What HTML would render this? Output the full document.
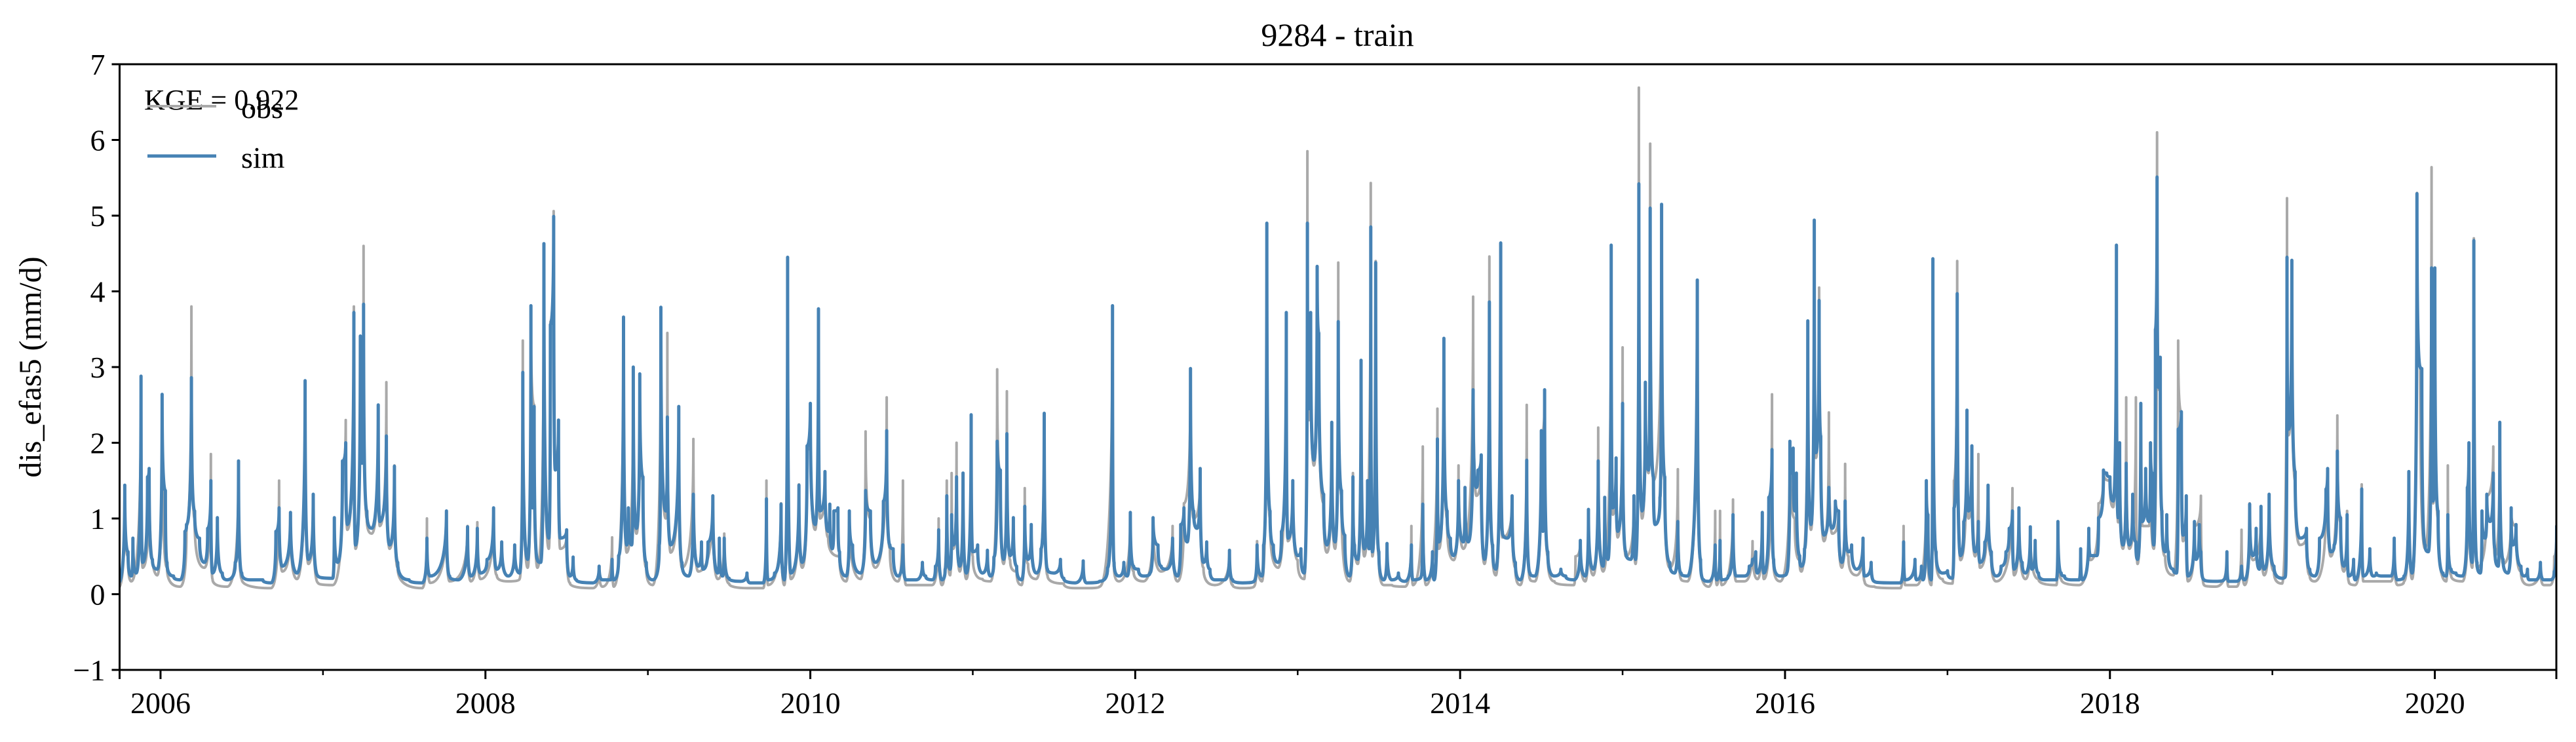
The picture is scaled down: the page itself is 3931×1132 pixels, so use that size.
<!DOCTYPE html>
<html><head><meta charset="utf-8"><style>
html,body{margin:0;padding:0;background:#fff;}
svg{display:block;font-family:"Liberation Serif",serif;}
</style></head><body>
<svg id="chart" width="3931" height="1132" viewBox="0 0 3931 1132" xmlns="http://www.w3.org/2000/svg">
<rect width="3931" height="1132" fill="#fff"/>
<defs><clipPath id="plotclip"><rect x="182.5" y="98" width="3718.5" height="924"/></clipPath></defs>
<text x="2041" y="70" font-size="50" text-anchor="middle">9284 - train</text>
<text transform="translate(62,560) rotate(-90)" font-size="48" text-anchor="middle">dis_efas5 (mm/d)</text>
<g id="series" clip-path="url(#plotclip)"></g>
<g id="axes"></g>
<g>
<text x="220" y="167" font-size="44">KGE = 0.922</text>
<line x1="225" y1="162" x2="330" y2="162" stroke="#a9a9a9" stroke-width="4"/>
<text x="368" y="180" font-size="46">obs</text>
<line x1="225" y1="238" x2="330" y2="238" stroke="#4682b4" stroke-width="5"/>
<text x="368" y="256" font-size="46">sim</text>
</g>
</svg>
<script>
const yTicks=[-1,0,1,2,3,4,5,6,7];
const xMajorTicks=[2006,2008,2010,2012,2014,2016,2018,2020];
const xMinorTicks=[2007,2009,2011,2013,2015,2017,2019];
const simSeries=[[2005.74,.15],[2005.78,1.44],[2005.80,.56],[2005.82,.24],[2005.83,.74],[2005.85,.28],[2005.88,2.88],[2005.89,.42],[2005.92,1.55],[2005.93,1.66],[2005.95,.46],[2005.98,.33],
[2006.01,2.64],[2006.03,1.37],[2006.04,.42],[2006.08,.24],[2006.12,.19],[2006.15,.83],[2006.16,.92],[2006.19,2.86],[2006.21,1.1],[2006.24,.74],[2006.27,.42],[2006.29,.87],[2006.31,1.5],[2006.32,.28],[2006.35,1.01],[2006.38,.28],[2006.41,.19],[2006.46,.42],[2006.48,1.76],[2006.50,.28],[2006.55,.19],[2006.63,.19],[2006.68,.15],[2006.71,.83],[2006.73,1.14],[2006.75,.37],[2006.80,1.08],[2006.84,.28],[2006.89,2.82],[2006.91,.46],[2006.94,1.32],[2006.97,.24],
[2007.06,.21],[2007.07,1.01],[2007.09,.42],[2007.12,1.76],[2007.14,2.0],[2007.15,.92],[2007.19,3.72],[2007.20,.65],[2007.23,3.41],[2007.24,1.73],[2007.25,3.83],[2007.27,1.1],[2007.30,.87],[2007.34,2.5],[2007.35,.96],[2007.39,2.09],[2007.41,.65],[2007.44,1.69],[2007.46,.42],[2007.53,.19],[2007.61,.15],[2007.64,.74],[2007.66,.24],[2007.76,1.1],[2007.78,.24],[2007.83,.19],[2007.89,.89],[2007.91,.24],[2007.95,.87],[2007.97,.28],
[2008.01,.46],[2008.05,1.14],[2008.07,.33],[2008.10,.69],[2008.14,.24],[2008.18,.65],[2008.21,.28],[2008.23,2.93],[2008.26,.46],[2008.28,3.81],[2008.29,1.14],[2008.30,2.48],[2008.32,.46],[2008.34,.42],[2008.36,4.63],[2008.39,.74],[2008.40,3.56],[2008.42,4.99],[2008.43,1.64],[2008.45,2.3],[2008.46,.74],[2008.50,.85],[2008.52,.24],[2008.54,.49],[2008.56,.19],[2008.66,.15],[2008.70,.37],[2008.72,.19],[2008.77,.19],[2008.78,.46],[2008.79,.19],[2008.82,.51],[2008.85,3.66],[2008.87,.65],[2008.88,1.14],[2008.90,.65],[2008.91,3.0],[2008.93,.87],[2008.95,2.91],[2008.97,1.55],[2008.99,.42],
[2009.03,.19],[2009.07,.65],[2009.08,3.79],[2009.11,1.1],[2009.12,2.34],[2009.14,.65],[2009.19,2.48],[2009.21,.42],[2009.25,.24],[2009.28,1.32],[2009.31,.37],[2009.33,.69],[2009.34,.33],[2009.37,.69],[2009.40,1.3],[2009.43,.28],[2009.44,.74],[2009.46,.24],[2009.47,.74],[2009.50,.21],[2009.57,.17],[2009.61,.28],[2009.63,.15],[2009.71,.15],[2009.73,1.26],[2009.74,.19],[2009.78,.28],[2009.82,1.19],[2009.84,.19],[2009.86,4.45],[2009.88,.28],[2009.93,1.44],[2009.95,.42],[2009.98,1.96],
[2010.00,2.52],[2010.03,.92],[2010.05,3.77],[2010.06,1.1],[2010.09,1.62],[2010.11,.83],[2010.12,1.19],[2010.135,.6],[2010.145,1.1],[2010.17,1.14],[2010.18,.56],[2010.22,.24],[2010.24,1.1],[2010.26,.65],[2010.31,.28],[2010.34,1.37],[2010.37,1.1],[2010.40,.42],[2010.45,1.23],[2010.47,2.16],[2010.49,.65],[2010.51,.6],[2010.54,.24],[2010.57,.65],[2010.59,.19],[2010.65,.19],[2010.69,.42],[2010.71,.24],[2010.75,.19],[2010.77,.37],[2010.79,.85],[2010.81,.19],[2010.83,.33],[2010.84,1.3],[2010.86,.33],[2010.87,1.05],[2010.88,.65],[2010.90,1.55],[2010.92,.37],[2010.94,1.6],[2010.96,.28],[2010.99,2.37],
[2011.00,.56],[2011.03,.65],[2011.06,.28],[2011.09,.58],[2011.11,.24],[2011.13,.49],[2011.15,2.02],[2011.17,1.64],[2011.19,.46],[2011.21,2.12],[2011.23,.51],[2011.25,1.01],[2011.27,.37],[2011.30,.19],[2011.32,1.16],[2011.34,.46],[2011.36,.92],[2011.39,.28],[2011.42,.6],[2011.44,2.39],[2011.46,.33],[2011.50,.28],[2011.54,.46],[2011.56,.21],[2011.63,.15],[2011.68,.44],[2011.70,.15],[2011.78,.17],[2011.83,.35],[2011.86,3.81],[2011.87,.42],[2011.90,.24],[2011.93,.42],[2011.95,.24],[2011.97,1.08],[2011.99,.37],
[2012.02,.33],[2012.05,.24],[2012.09,.28],[2012.11,1.01],[2012.14,.65],[2012.16,.37],[2012.19,.33],[2012.23,.74],[2012.26,.24],[2012.28,.92],[2012.30,1.14],[2012.32,.69],[2012.34,2.98],[2012.36,1.1],[2012.38,.87],[2012.40,1.66],[2012.42,.42],[2012.44,.69],[2012.46,.33],[2012.49,.19],[2012.55,.19],[2012.58,.58],[2012.60,.19],[2012.66,.15],[2012.73,.17],[2012.75,.65],[2012.78,.24],[2012.79,.65],[2012.81,4.9],[2012.83,1.1],[2012.85,.65],[2012.88,.42],[2012.90,.83],[2012.93,3.72],[2012.94,.74],[2012.97,1.5],
[2013.00,.51],[2013.02,.6],[2013.04,.28],[2013.06,4.9],[2013.07,2.45],[2013.08,3.72],[2013.10,1.77],[2013.12,4.33],[2013.13,3.45],[2013.16,1.32],[2013.18,.65],[2013.21,2.27],[2013.23,.69],[2013.25,3.6],[2013.27,1.37],[2013.29,.78],[2013.32,.24],[2013.34,1.55],[2013.35,.65],[2013.37,.46],[2013.39,3.09],[2013.41,.6],[2013.43,1.5],[2013.44,.6],[2013.45,4.85],[2013.46,.56],[2013.48,4.38],[2013.50,.56],[2013.53,.19],[2013.55,.67],[2013.58,.19],[2013.62,.28],[2013.66,.17],[2013.70,.65],[2013.71,.19],[2013.76,.24],[2013.77,1.19],[2013.79,.19],[2013.83,.56],[2013.84,.19],[2013.86,2.05],[2013.87,.69],[2013.90,3.38],[2013.92,1.1],[2013.94,.74],[2013.96,.51],[2013.99,1.5],
[2014.02,.69],[2014.03,1.41],[2014.05,.69],[2014.08,2.7],[2014.10,1.41],[2014.11,1.64],[2014.13,1.84],[2014.15,.46],[2014.18,3.86],[2014.20,.65],[2014.22,.33],[2014.25,4.64],[2014.26,.83],[2014.29,.74],[2014.32,1.3],[2014.34,.42],[2014.37,.19],[2014.41,1.77],[2014.43,.28],[2014.46,.24],[2014.50,2.16],[2014.51,.83],[2014.52,2.7],[2014.54,.56],[2014.58,.24],[2014.62,.33],[2014.65,.24],[2014.70,.19],[2014.74,.71],[2014.77,.24],[2014.79,1.12],[2014.82,.33],[2014.85,1.76],[2014.88,.37],[2014.89,1.28],[2014.91,.46],[2014.93,4.61],[2014.94,1.14],[2014.96,1.8],[2014.97,.83],
[2015.00,2.52],[2015.02,.56],[2015.05,.46],[2015.07,1.3],[2015.08,.46],[2015.10,5.42],[2015.12,1.1],[2015.14,2.8],[2015.16,1.64],[2015.17,5.1],[2015.19,1.55],[2015.20,.92],[2015.23,1.28],[2015.24,5.15],[2015.26,1.55],[2015.29,.42],[2015.32,.28],[2015.34,.96],[2015.36,.28],[2015.40,.24],[2015.46,4.15],[2015.48,.46],[2015.50,.19],[2015.53,.17],[2015.57,.65],[2015.58,.19],[2015.60,.71],[2015.61,.19],[2015.65,.24],[2015.68,1.05],[2015.70,.24],[2015.75,.24],[2015.78,.37],[2015.80,.46],[2015.82,.56],[2015.83,.28],[2015.86,1.08],[2015.87,.28],[2015.90,1.28],[2015.92,1.91],[2015.93,.46],[2015.97,.24],
[2016.01,.28],[2016.03,2.02],[2016.04,1.6],[2016.05,1.93],[2016.06,1.1],[2016.07,1.6],[2016.09,.51],[2016.10,.37],[2016.12,.6],[2016.14,3.61],[2016.16,.92],[2016.18,4.94],[2016.19,1.87],[2016.21,3.88],[2016.22,2.09],[2016.24,.78],[2016.27,1.41],[2016.29,.87],[2016.31,1.23],[2016.33,1.1],[2016.35,.42],[2016.37,1.23],[2016.39,.56],[2016.41,.65],[2016.44,.33],[2016.48,.74],[2016.49,.24],[2016.53,.42],[2016.55,.17],[2016.65,.15],[2016.71,.15],[2016.73,.69],[2016.74,.19],[2016.80,.46],[2016.81,.19],[2016.84,.37],[2016.85,.19],[2016.87,1.5],[2016.88,1.05],[2016.90,.19],[2016.91,4.43],[2016.93,.56],[2016.97,.28],
[2017.00,.31],[2017.03,.21],[2017.04,1.14],[2017.06,3.97],[2017.08,.51],[2017.10,.96],[2017.12,2.43],[2017.13,1.1],[2017.15,1.96],[2017.17,.56],[2017.19,.96],[2017.20,.42],[2017.23,.69],[2017.25,1.44],[2017.27,.56],[2017.30,.24],[2017.33,.37],[2017.36,.56],[2017.38,.87],[2017.40,1.1],[2017.41,.33],[2017.44,1.14],[2017.46,.42],[2017.48,.28],[2017.51,.89],[2017.52,.33],[2017.54,.71],[2017.56,.28],[2017.60,.19],[2017.67,.19],[2017.68,.96],[2017.70,.28],[2017.72,.24],[2017.76,.19],[2017.81,.19],[2017.82,.6],[2017.83,.19],[2017.87,.87],[2017.88,.51],[2017.92,.51],[2017.93,1.01],[2017.96,1.64],[2017.98,1.6],
[2018.00,1.55],[2018.02,1.23],[2018.04,4.61],[2018.05,1.01],[2018.06,2.0],[2018.08,.65],[2018.10,1.73],[2018.12,.65],[2018.14,1.32],[2018.16,.69],[2018.17,.46],[2018.19,2.52],[2018.20,.96],[2018.22,1.66],[2018.24,.96],[2018.25,2.0],[2018.26,1.6],[2018.27,.65],[2018.28,3.5],[2018.29,5.51],[2018.30,2.73],[2018.31,3.13],[2018.32,1.1],[2018.34,.56],[2018.35,1.05],[2018.36,.56],[2018.39,.33],[2018.41,.28],[2018.42,2.18],[2018.44,2.41],[2018.45,.78],[2018.47,1.3],[2018.48,.24],[2018.52,.96],[2018.53,.46],[2018.55,.92],[2018.56,.56],[2018.58,.19],[2018.65,.17],[2018.70,.19],[2018.72,.56],[2018.73,.17],[2018.78,.17],[2018.81,.37],[2018.83,.19],[2018.86,1.19],[2018.88,.51],[2018.90,.87],[2018.92,.33],[2018.93,1.16],[2018.95,.33],[2018.98,1.32],
[2019.01,.37],[2019.06,.21],[2019.08,.24],[2019.09,4.45],[2019.10,2.18],[2019.12,4.41],[2019.14,1.62],[2019.17,.74],[2019.21,.87],[2019.23,.33],[2019.26,.24],[2019.29,.74],[2019.33,1.39],[2019.34,1.66],[2019.36,.56],[2019.38,.65],[2019.40,1.89],[2019.42,1.01],[2019.44,.37],[2019.46,1.05],[2019.47,.24],[2019.50,.46],[2019.51,.19],[2019.55,1.39],[2019.56,.24],[2019.60,.6],[2019.62,.24],[2019.64,.28],[2019.68,.24],[2019.73,.24],[2019.75,.74],[2019.77,.19],[2019.81,.24],[2019.84,1.62],[2019.86,.28],[2019.89,5.29],[2019.91,3.0],[2019.92,2.98],[2019.94,.65],[2019.96,.56],[2019.98,4.31],[2019.99,1.23],
[2020.00,4.31],[2020.02,1.1],[2020.05,.28],[2020.07,.24],[2020.08,1.05],[2020.10,.33],[2020.13,.28],[2020.17,.24],[2020.20,1.41],[2020.21,2.0],[2020.23,.42],[2020.24,4.67],[2020.26,.42],[2020.28,.28],[2020.29,1.1],[2020.31,.74],[2020.32,1.32],[2020.34,.96],[2020.36,1.6],[2020.37,.6],[2020.39,.37],[2020.40,2.27],[2020.42,.46],[2020.45,.28],[2020.47,1.14],[2020.48,.65],[2020.50,.92],[2020.53,.37],[2020.55,.24],[2020.57,.33],[2020.58,.19],[2020.62,.19],[2020.65,.42],[2020.67,.19],[2020.71,.19],[2020.735,.3],[2020.75,.9]];
const obsSeries=[[2005.74,.08],[2005.78,1.3],[2005.80,.5],[2005.82,.17],[2005.88,2.85],[2005.89,.35],[2005.93,1.6],[2005.98,.25],[2006.01,2.6],[2006.04,.35],[2006.12,.1],[2006.16,.9],[2006.19,3.8],[2006.21,1.0],[2006.27,.35],[2006.31,1.85],[2006.32,.2],[2006.41,.1],[2006.48,1.7],[2006.50,.2],[2006.68,.08],[2006.73,1.5],[2006.75,.3],[2006.80,1.0],[2006.84,.2],[2006.89,2.8],[2006.91,.4],[2006.94,1.25],[2006.97,.15],
[2007.06,.12],[2007.12,1.7],[2007.14,2.3],[2007.15,.85],[2007.19,3.8],[2007.20,.6],[2007.23,3.4],[2007.24,1.8],[2007.25,4.6],[2007.27,1.0],[2007.30,.8],[2007.34,2.4],[2007.35,.9],[2007.39,2.8],[2007.41,.6],[2007.44,1.7],[2007.46,.35],[2007.61,.08],[2007.64,1.0],[2007.66,.15],[2007.76,1.05],[2007.78,.17],[2007.89,.9],[2007.91,.17],[2007.95,.95],[2007.97,.2],
[2008.05,1.1],[2008.07,.25],[2008.14,.17],[2008.21,.2],[2008.23,3.35],[2008.26,.35],[2008.28,3.8],[2008.30,2.5],[2008.32,.35],[2008.36,4.6],[2008.39,.6],[2008.40,3.6],[2008.42,5.06],[2008.43,1.8],[2008.45,2.3],[2008.46,.6],[2008.50,.8],[2008.52,.15],[2008.66,.08],[2008.70,.35],[2008.72,.1],[2008.78,.75],[2008.79,.1],[2008.85,3.6],[2008.87,.55],[2008.91,2.95],[2008.93,.8],[2008.95,2.85],[2008.97,1.5],[2008.99,.35],
[2009.03,.12],[2009.08,3.75],[2009.11,1.0],[2009.12,3.45],[2009.14,.55],[2009.19,2.4],[2009.21,.35],[2009.28,2.05],[2009.31,.3],[2009.40,1.3],[2009.43,.2],[2009.47,.8],[2009.50,.14],[2009.63,.08],[2009.71,.08],[2009.73,1.5],[2009.74,.12],[2009.82,1.2],[2009.84,.12],[2009.86,4.45],[2009.88,.2],[2009.93,1.45],[2009.95,.35],[2009.98,1.9],
[2010.00,2.5],[2010.03,.85],[2010.05,3.75],[2010.06,1.0],[2010.09,1.6],[2010.11,.75],[2010.18,.5],[2010.22,.17],[2010.24,1.1],[2010.31,.2],[2010.34,2.15],[2010.37,1.0],[2010.40,.35],[2010.47,2.6],[2010.49,.6],[2010.54,.17],[2010.57,1.5],[2010.59,.12],[2010.65,.12],[2010.75,.12],[2010.79,1.0],[2010.81,.12],[2010.84,1.5],[2010.86,.25],[2010.87,1.6],[2010.88,.6],[2010.90,2.0],[2010.92,.3],[2010.94,1.6],[2010.96,.2],[2010.99,2.35],
[2011.00,.5],[2011.06,.2],[2011.11,.17],[2011.15,2.97],[2011.17,1.6],[2011.19,.4],[2011.21,2.68],[2011.23,.45],[2011.27,.3],[2011.30,.12],[2011.32,1.4],[2011.34,.4],[2011.39,.2],[2011.44,2.35],[2011.46,.25],[2011.56,.14],[2011.63,.08],[2011.70,.08],[2011.78,.1],[2011.86,3.8],[2011.87,.35],[2011.90,.17],[2011.97,1.05],[2011.99,.3],
[2012.05,.17],[2012.11,1.0],[2012.16,.3],[2012.23,.9],[2012.26,.17],[2012.30,1.2],[2012.34,2.95],[2012.36,1.0],[2012.40,1.6],[2012.42,.35],[2012.49,.12],[2012.58,.55],[2012.60,.12],[2012.66,.08],[2012.73,.1],[2012.75,.7],[2012.78,.17],[2012.81,4.9],[2012.83,1.0],[2012.88,.35],[2012.93,3.7],[2012.94,.7],[2012.97,1.45],
[2013.00,.45],[2013.04,.2],[2013.06,5.85],[2013.07,2.3],[2013.08,3.7],[2013.10,1.7],[2013.12,4.3],[2013.13,3.3],[2013.16,1.2],[2013.18,.55],[2013.21,2.2],[2013.23,.6],[2013.25,4.38],[2013.27,1.3],[2013.32,.17],[2013.34,1.6],[2013.37,.4],[2013.39,3.05],[2013.41,.5],[2013.45,5.43],[2013.46,.5],[2013.48,4.4],[2013.50,.5],[2013.53,.12],[2013.58,.12],[2013.66,.1],[2013.70,.9],[2013.71,.12],[2013.77,1.95],[2013.79,.12],[2013.86,2.45],[2013.87,.6],[2013.90,3.35],[2013.92,1.0],[2013.96,.45],[2013.99,1.7],
[2014.02,.6],[2014.08,3.93],[2014.10,1.3],[2014.13,1.8],[2014.15,.4],[2014.18,4.46],[2014.20,.6],[2014.22,.25],[2014.25,4.6],[2014.26,.75],[2014.32,1.25],[2014.34,.35],[2014.37,.12],[2014.41,2.5],[2014.43,.2],[2014.46,.17],[2014.50,2.1],[2014.52,2.65],[2014.54,.5],[2014.58,.17],[2014.70,.12],[2014.71,.5],[2014.74,.7],[2014.77,.17],[2014.79,1.1],[2014.82,.25],[2014.85,2.2],[2014.88,.3],[2014.93,4.6],[2014.94,1.05],[2014.96,1.75],[2014.97,.75],
[2015.00,3.26],[2015.02,.5],[2015.07,1.25],[2015.08,.4],[2015.10,6.69],[2015.12,1.0],[2015.14,2.8],[2015.16,1.6],[2015.17,5.95],[2015.19,1.5],[2015.24,5.1],[2015.26,1.5],[2015.29,.35],[2015.34,1.65],[2015.36,.2],[2015.40,.17],[2015.46,4.15],[2015.48,.4],[2015.53,.1],[2015.57,1.1],[2015.58,.12],[2015.60,1.1],[2015.61,.12],[2015.68,1.25],[2015.70,.17],[2015.75,.17],[2015.80,.7],[2015.83,.2],[2015.86,1.05],[2015.87,.2],[2015.92,2.64],[2015.93,.4],[2015.97,.17],
[2016.03,2.0],[2016.06,1.0],[2016.09,.45],[2016.10,.3],[2016.14,3.6],[2016.16,.85],[2016.18,4.9],[2016.19,1.8],[2016.21,4.05],[2016.22,2.0],[2016.24,.7],[2016.27,2.4],[2016.29,.8],[2016.33,1.1],[2016.35,.35],[2016.37,1.72],[2016.39,.5],[2016.44,.25],[2016.48,.7],[2016.49,.17],[2016.55,.1],[2016.71,.08],[2016.73,.9],[2016.74,.12],[2016.81,.12],[2016.87,1.5],[2016.90,.12],[2016.91,4.43],[2016.93,.5],[2016.97,.2],
[2017.03,.14],[2017.04,1.5],[2017.06,4.4],[2017.08,.45],[2017.12,2.4],[2017.13,1.0],[2017.15,1.9],[2017.17,.5],[2017.19,1.85],[2017.20,.35],[2017.25,1.4],[2017.27,.5],[2017.30,.17],[2017.40,1.4],[2017.41,.25],[2017.44,1.1],[2017.48,.2],[2017.51,.85],[2017.56,.2],[2017.67,.12],[2017.68,.95],[2017.70,.2],[2017.81,.12],[2017.87,.85],[2017.88,.45],[2017.93,1.2],[2017.96,1.6],
[2018.00,1.5],[2018.02,1.15],[2018.04,4.6],[2018.05,.95],[2018.06,1.9],[2018.08,.6],[2018.10,2.6],[2018.12,.6],[2018.16,2.6],[2018.17,.4],[2018.19,2.5],[2018.20,.9],[2018.24,.9],[2018.25,1.9],[2018.27,.6],[2018.29,6.1],[2018.30,2.7],[2018.31,3.1],[2018.32,1.0],[2018.34,.5],[2018.39,.25],[2018.42,3.35],[2018.44,2.4],[2018.45,.7],[2018.47,1.3],[2018.48,.17],[2018.52,.9],[2018.56,1.3],[2018.58,.12],[2018.65,.1],[2018.72,.5],[2018.73,.1],[2018.78,.1],[2018.81,.85],[2018.83,.12],[2018.86,1.2],[2018.88,.45],[2018.93,1.1],[2018.95,.25],[2018.98,1.3],
[2019.01,.3],[2019.06,.14],[2019.09,5.23],[2019.10,2.1],[2019.12,4.4],[2019.14,1.5],[2019.17,.65],[2019.21,.8],[2019.23,.25],[2019.26,.17],[2019.33,1.3],[2019.34,1.6],[2019.36,.5],[2019.40,2.36],[2019.42,.95],[2019.44,.3],[2019.46,1.1],[2019.47,.17],[2019.51,.12],[2019.55,1.45],[2019.56,.17],[2019.62,.17],[2019.73,.17],[2019.75,.7],[2019.77,.12],[2019.81,.17],[2019.84,1.6],[2019.86,.2],[2019.89,5.3],[2019.91,3.0],[2019.94,.6],[2019.98,5.64],[2019.99,1.2],
[2020.00,4.3],[2020.02,1.0],[2020.07,.17],[2020.08,1.7],[2020.10,.25],[2020.17,.17],[2020.21,2.0],[2020.23,.35],[2020.24,4.7],[2020.26,.35],[2020.32,1.3],[2020.36,1.95],[2020.37,.5],[2020.40,2.25],[2020.42,.4],[2020.47,1.1],[2020.50,.9],[2020.53,.3],[2020.58,.12],[2020.65,.4],[2020.67,.12],[2020.71,.12],[2020.735,.5],[2020.75,1.0]];

const NS="http://www.w3.org/2000/svg";
const X0=182.5,X1=3901,Y0=98,Y1=1022,T0=2005.748,T1=2020.748,V0=-1,V1=7;
function xScale(t){return X0+(t-T0)/(T1-T0)*(X1-X0);}
function yScale(v){return Y1-(v-V0)/(V1-V0)*(Y1-Y0);}
function mk(tag,attrs){const e=document.createElementNS(NS,tag);for(const k in attrs)e.setAttribute(k,attrs[k]);return e;}
const series=document.getElementById('series');
function drawLine(data,color,w,name){
  let d='';
  for(let i=0;i<data.length;i++){
    const x=xScale(data[i][0]),y=yScale(data[i][1]);
    if(i===0){d+='M'+x.toFixed(1)+' '+y.toFixed(1);continue;}
    const px=xScale(data[i-1][0]),py=yScale(data[i-1][1]);
    // rising: flat then steep; falling: steep then flat (hydrograph recession)
    const cx=y<py?x:px, cy=y<py?py:y;
    d+=' Q'+cx.toFixed(1)+' '+cy.toFixed(1)+' '+x.toFixed(1)+' '+y.toFixed(1);
  }
  const path=mk('path',{d:d,fill:'none',stroke:color,'stroke-width':w,'stroke-linejoin':'round','stroke-linecap':'round'});
  
  
  series.appendChild(path);
}
drawLine(obsSeries,'#a9a9a9',4,'obs-line');
drawLine(simSeries,'#4682b4',5,'sim-line');

const axes=document.getElementById('axes');
const frame=mk('rect',{x:X0,y:Y0,width:X1-X0,height:Y1-Y0,fill:'none',stroke:'#000','stroke-width':3});


axes.appendChild(frame);
yTicks.forEach(v=>{
  const y=yScale(v);
  const tk=mk('line',{x1:X0-12,x2:X0,y1:y,y2:y,stroke:'#000','stroke-width':3});
  
  
  axes.appendChild(tk);
  const lb=mk('text',{x:X0-22,y:y+16,'font-size':46,'text-anchor':'end'});
  
  
  lb.textContent=v<0?'\u2212'+Math.abs(v):String(v);
  axes.appendChild(lb);
});
xMajorTicks.forEach(t=>{
  const x=xScale(t);
  const tk=mk('line',{x1:x,x2:x,y1:Y1,y2:Y1+14,stroke:'#000','stroke-width':3});
  
  
  axes.appendChild(tk);
  const lb=mk('text',{x:x,y:Y1+66,'font-size':46,'text-anchor':'middle'});
  
  
  lb.textContent=String(t);
  axes.appendChild(lb);
});
xMinorTicks.forEach(t=>{
  const x=xScale(t);
  const tk=mk('line',{x1:x,x2:x,y1:Y1,y2:Y1+8,stroke:'#000','stroke-width':2.5});
  
  
  axes.appendChild(tk);
});
[X0,X1].forEach(x=>{
  const tk=mk('line',{x1:x,x2:x,y1:Y1,y2:Y1+14,stroke:'#000','stroke-width':3});
  
  
  axes.appendChild(tk);
});
</script>
</body></html>
